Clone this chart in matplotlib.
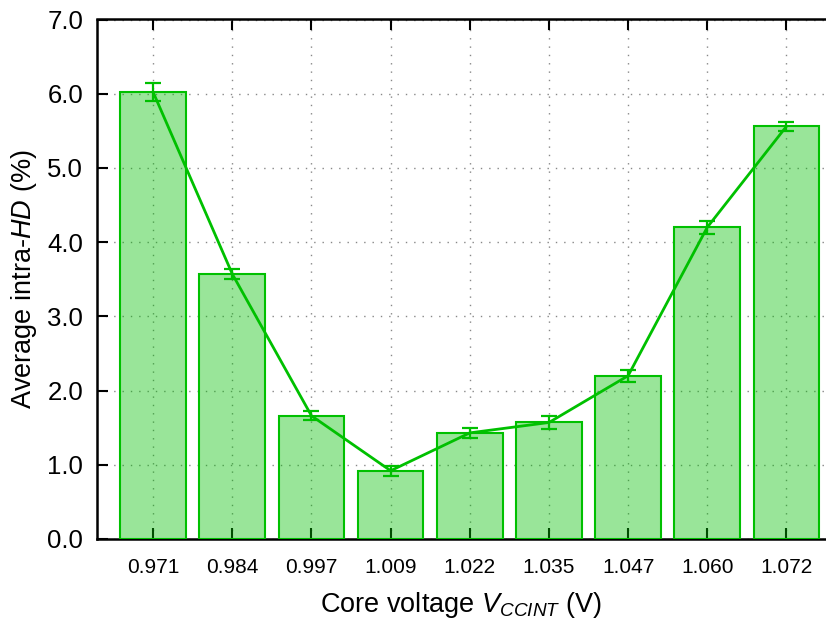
import numpy as np
import matplotlib.pyplot as plt

plt.rcParams['font.family'] = ['Liberation Sans', 'DejaVu Sans']
plt.rcParams['mathtext.fontset'] = 'custom'
plt.rcParams['mathtext.rm'] = 'Liberation Sans'
plt.rcParams['mathtext.it'] = 'Liberation Sans:italic'

# Average intra-HD per core voltage setting
voltages = ['0.971', '0.984', '0.997', '1.009', '1.022', '1.035', '1.047', '1.060', '1.072']
hd_mean = [6.02, 3.57, 1.66, 0.92, 1.43, 1.57, 2.20, 4.20, 5.56]
hd_err = [0.12, 0.07, 0.06, 0.07, 0.07, 0.09, 0.08, 0.09, 0.06]

green = '#00c000'

fig = plt.figure(figsize=(8.26, 6.25), dpi=100)
ax = fig.add_axes([0.1174, 0.1376, 0.8826, 0.8312])

x = np.arange(len(voltages))

# dotted grid behind the bars
ax.set_axisbelow(True)
ax.grid(True, color='#888888', linestyle=(0, (1, 5)), linewidth=1.0)

ax.bar(x, hd_mean, width=0.83, color=green, alpha=0.4, zorder=2)
ax.bar(x, hd_mean, width=0.83, fill=False, edgecolor=green, linewidth=1.5, zorder=3)
ax.errorbar(x, hd_mean, yerr=hd_err, color=green, linewidth=2, capsize=6,
            capthick=1.6, elinewidth=1.6, zorder=4)

ax.set_xlim(-0.71, 8.5)
ax.set_ylim(0, 7.0)
ax.set_xticks(x)
ax.set_xticklabels(voltages, fontsize=15)
yt = np.arange(0, 7.5, 1.0)
ax.set_yticks(yt)
ax.set_yticklabels([f'{v:.1f}' for v in yt], fontsize=18.5)

ax.tick_params(axis='y', direction='in', length=8, width=1.5, pad=10, right=False)
ax.tick_params(axis='x', direction='in', length=8, width=1.5, pad=14, top=True)

for side in ['left', 'top', 'bottom']:
    ax.spines[side].set_linewidth(1.8)
ax.spines['right'].set_visible(False)

ax.set_xlabel(r'Core voltage $\mathit{V}_{\mathit{CCINT}}$ (V)', fontsize=19.5, labelpad=9)
ax.set_ylabel(r'Average intra-$\mathit{HD}$ (%)', fontsize=19.5, labelpad=6)

fig.savefig('out.png', dpi=100)
